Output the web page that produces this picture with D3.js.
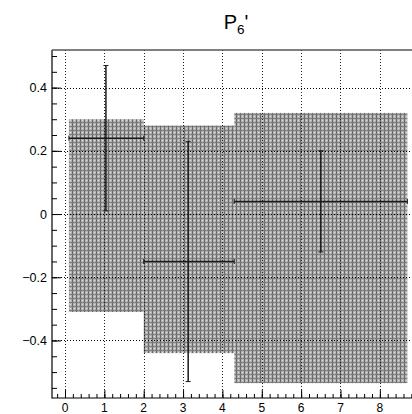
<!DOCTYPE html>
<html>
<head>
<meta charset="utf-8">
<script src="https://cdn.jsdelivr.net/npm/d3@7"></script>
<style>
  html, body { margin: 0; padding: 0; background: #fff; }
  svg { display: block; font-family: "Liberation Sans", Arial, Helvetica, sans-serif; }
</style>
</head>
<body>
<svg id="chart" width="412" height="414"></svg>
<script>
// Theory prediction bins (q^2 ranges) with their band limits
const binLow  = [0.1, 2.0, 4.3];
const binHigh = [2.0, 4.3, 8.7];
const bandMin = [-0.31, -0.44, -0.535];
const bandMax = [0.30, 0.28, 0.32];

// Measured points: bin centre, value, symmetric uncertainty
const pointX   = [1.04, 3.13, 6.5];
const pointY   = [0.24, -0.15, 0.04];
const pointErr = [0.23, 0.38, 0.16];

const xTickValues = [0, 1, 2, 3, 4, 5, 6, 7, 8];
const yTickValues = [-0.4, -0.2, 0, 0.2, 0.4];

const svg = d3.select("#chart");
const padL = 52, padT = 50, padR = 420, padB = 398;

const x = d3.scaleLinear().domain([-0.33, 9.02]).range([padL, padR]);
const y = d3.scaleLinear().domain([-0.582, 0.519]).range([padB, padT]);

// Fill pattern for the theory bands
const defs = svg.append("defs");
const pat = defs.append("pattern")
  .attr("id", "band")
  .attr("patternUnits", "userSpaceOnUse")
  .attr("width", 4).attr("height", 4);
pat.append("rect").attr("width", 4).attr("height", 4).attr("fill", "#b2b2b2");
pat.append("rect").attr("x", 0).attr("y", 0).attr("width", 1).attr("height", 4).attr("fill", "#686868");
pat.append("rect").attr("x", 0).attr("y", 2).attr("width", 4).attr("height", 1).attr("fill", "#787878");
pat.append("rect").attr("x", 2).attr("y", 0).attr("width", 1).attr("height", 1).attr("fill", "#dedede");
pat.append("rect").attr("x", 2).attr("y", 2).attr("width", 1).attr("height", 1).attr("fill", "#8c8c8c");

const clip = defs.append("clipPath").attr("id", "plotclip");
clip.append("rect").attr("x", padL).attr("y", padT).attr("width", padR - padL).attr("height", padB - padT);

const plot = svg.append("g").attr("clip-path", "url(#plotclip)");

// Theory bands
plot.selectAll("rect.band")
  .data(binLow.map((d, i) => ({ lo: d, hi: binHigh[i], mn: bandMin[i], mx: bandMax[i] })))
  .join("rect")
  .attr("class", "band")
  .attr("x", d => x(d.lo))
  .attr("width", d => x(d.hi) - x(d.lo))
  .attr("y", d => y(d.mx))
  .attr("height", d => y(d.mn) - y(d.mx))
  .attr("fill", "url(#band)");

// Dotted grid at the major ticks
plot.selectAll("line.gx").data(xTickValues).join("line")
  .attr("x1", d => Math.round(x(d)) + 0.5).attr("x2", d => Math.round(x(d)) + 0.5)
  .attr("y1", padT).attr("y2", padB)
  .attr("stroke", "#222").attr("stroke-width", 1).attr("stroke-dasharray", "1,2");
plot.selectAll("line.gy").data(yTickValues).join("line")
  .attr("y1", d => Math.round(y(d)) + 0.5).attr("y2", d => Math.round(y(d)) + 0.5)
  .attr("x1", padL).attr("x2", padR)
  .attr("stroke", "#000").attr("stroke-width", 1).attr("stroke-dasharray", "1,2");

// Data points with error bars
const pts = pointX.map((d, i) => ({ i, x: d, y: pointY[i], e: pointErr[i], lo: binLow[i], hi: binHigh[i] }));
const eb = plot.selectAll("g.pt").data(pts).join("g").attr("class", "pt")
  .attr("stroke", "#1a1a1a").attr("stroke-width", 1.5);
eb.append("line")
  .attr("x1", d => x(d.lo)).attr("x2", d => x(d.hi))
  .attr("y1", d => y(d.y)).attr("y2", d => y(d.y));
eb.append("line")
  .attr("x1", d => x(d.x)).attr("x2", d => x(d.x))
  .attr("y1", d => y(d.y + d.e)).attr("y2", d => y(d.y - d.e));
// caps
eb.append("line")
  .attr("x1", d => x(d.x) - 2.5).attr("x2", d => x(d.x) + 2.5)
  .attr("y1", d => y(d.y + d.e)).attr("y2", d => y(d.y + d.e)).attr("stroke-width", 1);
eb.append("line")
  .attr("x1", d => x(d.x) - 2.5).attr("x2", d => x(d.x) + 2.5)
  .attr("y1", d => y(d.y - d.e)).attr("y2", d => y(d.y - d.e)).attr("stroke-width", 1);
eb.append("line")
  .attr("x1", d => x(d.lo)).attr("x2", d => x(d.lo))
  .attr("y1", d => y(d.y) - 2.5).attr("y2", d => y(d.y) + 2.5).attr("stroke-width", 1);
eb.append("line")
  .attr("x1", d => x(d.hi)).attr("x2", d => x(d.hi))
  .attr("y1", d => y(d.y) - 2.5).attr("y2", d => y(d.y) + 2.5).attr("stroke-width", 1);

// Axes: ticks drawn inward from the frame
const xMinor = d3.range(-0.2, 9.01, 0.2).map(v => Math.round(v * 10) / 10);
const yMinor = d3.range(-0.55, 0.51, 0.05).map(v => Math.round(v * 100) / 100);

const xAxisMinor = d3.axisTop(x).tickValues(xMinor).tickSize(4).tickFormat("");
const xAxisMajor = d3.axisTop(x).tickValues(xTickValues).tickSize(8).tickFormat("");
const yAxisMinor = d3.axisRight(y).tickValues(yMinor).tickSize(5).tickFormat("");
const yAxisMajor = d3.axisRight(y).tickValues(yTickValues).tickSize(9).tickFormat("");

function styleAxis(g) {
  g.select(".domain").remove();
  g.selectAll(".tick line").attr("stroke", "#000").attr("stroke-width", 1);
}
svg.append("g").attr("transform", `translate(0,${padB})`).call(xAxisMinor).call(styleAxis);
svg.append("g").attr("transform", `translate(0,${padB})`).call(xAxisMajor).call(styleAxis);
svg.append("g").attr("transform", `translate(${padL},0)`).call(yAxisMinor).call(styleAxis);
svg.append("g").attr("transform", `translate(${padL},0)`).call(yAxisMajor).call(styleAxis);

// Frame
svg.append("line").attr("x1", padL).attr("x2", padL).attr("y1", padT).attr("y2", padB + 0.5)
  .attr("stroke", "#000").attr("stroke-width", 1.2);
svg.append("line").attr("x1", padL).attr("x2", padR).attr("y1", padB).attr("y2", padB)
  .attr("stroke", "#000").attr("stroke-width", 1.2);
svg.append("line").attr("x1", padL).attr("x2", padR).attr("y1", padT).attr("y2", padT)
  .attr("stroke", "#555").attr("stroke-width", 1.4);

// Tick labels
svg.selectAll("text.xl").data(xTickValues).join("text")
  .attr("x", d => x(d)).attr("y", 411.5)
  .attr("text-anchor", "middle").attr("font-size", 12).attr("fill", "#000")
  .text(d => d);
svg.selectAll("text.yl").data(yTickValues).join("text")
  .attr("x", 47).attr("y", d => y(d) + 4.5)
  .attr("text-anchor", "end").attr("font-size", 12.5).attr("fill", "#000")
  .text(d => d === 0 ? "0" : (d < 0 ? "\u2212" + Math.abs(d) : String(d)));

// Title P6'
const title = svg.append("text").attr("x", 236).attr("y", 29)
  .attr("text-anchor", "middle").attr("font-size", 20).attr("fill", "#000");
title.append("tspan").text("P");
title.append("tspan").attr("font-size", 13.5).attr("dy", 5).text("6");
title.append("tspan").attr("dy", -5).text("'");
</script>
</body>
</html>
